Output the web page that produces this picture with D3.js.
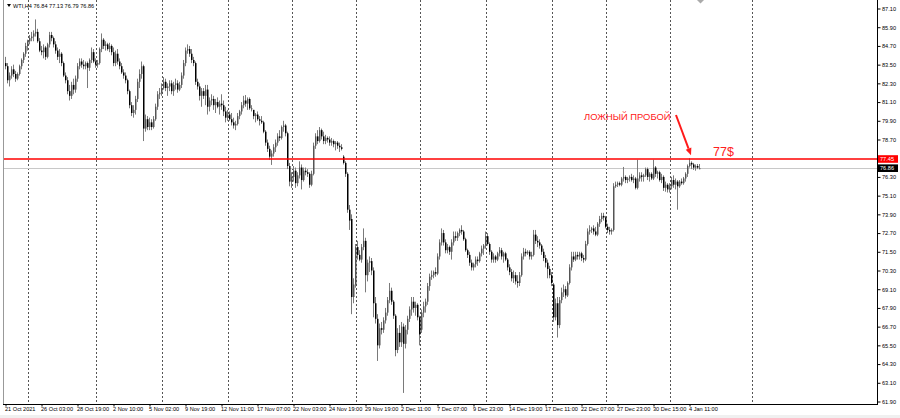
<!DOCTYPE html>
<html><head><meta charset="utf-8">
<script src="https://cdn.jsdelivr.net/npm/d3@7"></script>
<style>html,body{margin:0;padding:0;background:#fff;} svg{display:block;}</style>
</head><body>
<svg id="c" width="900" height="418"></svg>
<script>
// ---- data: H4 bars [open, high, low, close], one array per trading week ----
const week0 = [[83.6,84.0,83.2,83.4],[83.4,83.6,82.3,82.5],[82.5,83.0,82.1,82.8],[82.8,83.4,82.6,83.2],[83.2,83.5,82.7,82.9],[82.9,83.1,82.4,82.6],[82.6,83.0,82.5,82.9],[82.9,83.5,82.8,83.4],[83.4,83.9,83.2,83.8],[83.8,84.3,83.6,84.2],[84.2,84.9,84.0,84.7],[84.7,85.1,84.4,85.0]];
const week1 = [[85.0,85.4,84.8,85.2],[85.2,85.6,85.0,85.3],[85.3,85.7,85.0,85.5],[85.5,86.4,85.3,85.6],[85.6,85.8,84.9,85.0],[85.0,85.2,84.3,84.4],[84.4,84.7,84.1,84.3],[84.3,84.8,83.9,84.6],[84.6,84.7,83.8,84.0],[84.0,84.9,83.9,84.8],[84.8,85.6,84.6,85.4],[85.4,85.6,85.0,85.2],[85.2,85.3,84.6,84.8],[84.8,85.0,84.2,84.4],[84.4,84.6,83.8,84.0],[84.0,84.5,83.6,84.2],[84.2,84.3,83.4,83.6],[83.6,83.7,82.7,82.8],[82.8,83.0,82.3,82.5],[82.5,82.7,81.6,81.8],[81.8,82.2,81.2,81.5],[81.5,82.4,81.3,82.2],[82.2,82.6,81.6,81.9],[81.9,82.8,81.7,82.6],[82.6,83.6,82.4,83.4],[83.4,83.9,83.2,83.7],[83.7,83.9,83.3,83.5],[83.5,83.8,83.2,83.4],[83.4,83.7,83.2,83.6],[83.6,83.7,82.0,83.3],[83.3,83.9,83.1,83.8],[83.8,84.6,83.6,84.3],[84.3,84.5,83.6,83.7],[83.7,83.9,83.3,83.5]];
const week2 = [[83.5,83.8,83.3,83.6],[83.6,84.6,83.5,84.5],[84.5,85.5,84.3,85.1],[85.1,85.2,84.5,84.7],[84.7,85.0,84.4,84.8],[84.8,84.9,84.4,84.5],[84.5,84.9,84.3,84.7],[84.7,84.8,84.1,84.3],[84.3,84.6,83.4,83.6],[83.6,84.4,83.4,84.2],[84.2,84.5,83.5,83.7],[83.7,83.9,83.2,83.4],[83.4,83.6,82.9,83.0],[83.0,83.2,82.6,82.8],[82.8,83.0,82.3,82.5],[82.5,82.6,81.6,81.8],[81.8,81.9,80.7,80.9],[80.9,81.1,80.2,80.4],[80.4,80.9,80.1,80.6],[80.6,81.5,80.3,81.3],[81.3,82.6,81.1,82.4],[82.4,83.2,82.0,82.9],[82.9,83.7,82.6,83.4],[83.4,83.5,78.6,79.4],[79.4,80.3,79.2,80.0],[80.0,80.2,79.3,79.5],[79.5,80.1,79.3,79.8],[79.8,80.0,79.3,79.5],[79.5,80.2,79.4,80.0],[80.0,81.0,79.9,80.8],[80.8,81.8,80.6,81.6],[81.6,82.0,81.3,81.7],[81.7,82.3,81.5,82.0]];
const week3 = [[82.0,82.7,81.9,82.4],[82.4,82.6,81.8,82.0],[82.0,82.3,81.5,82.1],[82.1,82.5,81.8,82.3],[82.3,82.5,81.6,81.8],[81.8,82.4,81.5,82.2],[82.2,82.6,81.9,82.3],[82.3,82.5,81.7,81.9],[81.9,82.4,81.8,82.2],[82.2,83.0,82.0,82.8],[82.8,83.8,82.6,83.6],[83.6,84.6,83.4,84.4],[84.4,84.8,84.2,84.5],[84.5,84.7,84.0,84.2],[84.2,84.5,83.6,83.8],[83.8,84.0,83.4,83.6],[83.6,83.7,82.2,82.4],[82.4,82.6,81.9,82.1],[82.1,82.3,81.2,81.5],[81.5,82.0,80.8,81.8],[81.8,82.0,81.3,81.5],[81.5,82.2,80.9,81.9],[81.9,82.2,80.3,80.8],[80.8,81.4,80.5,81.2],[81.2,81.6,80.9,81.3],[81.3,81.5,80.6,80.9],[80.9,81.3,80.4,81.1],[81.1,81.4,80.7,80.8],[80.8,81.2,80.3,81.0],[81.0,81.6,80.6,80.9],[80.9,81.2,80.2,80.5],[80.5,80.8,79.8,80.1],[80.1,80.6,79.9,80.3]];
const week4 = [[80.3,80.5,79.9,80.0],[80.0,80.4,79.6,79.8],[79.8,80.1,79.4,79.6],[79.6,79.9,79.3,79.7],[79.7,80.4,79.6,80.2],[80.2,80.6,80.0,80.5],[80.5,81.1,80.3,80.9],[80.9,81.5,80.7,81.2],[81.2,81.55,80.8,81.0],[81.0,81.4,80.6,81.3],[81.3,81.4,80.6,80.7],[80.7,80.9,80.5,80.7],[80.6,80.6,80.0,80.2],[80.2,80.4,79.8,80.3],[80.3,80.5,79.9,80.0],[80.0,80.2,79.6,79.9],[79.9,80.2,79.7,79.8],[79.8,79.9,79.1,79.2],[79.2,79.3,78.3,78.5],[78.5,78.7,77.9,78.1],[78.1,78.3,77.4,77.6],[77.6,78.0,77.07,77.8],[77.8,78.4,77.6,78.2],[78.2,78.7,77.9,78.5],[78.5,79.1,78.3,78.9],[78.9,79.3,78.6,78.8],[78.8,79.6,78.7,79.5],[79.5,79.9,79.2,79.6],[79.6,79.7,78.9,79.1],[79.1,79.2,76.8,77.0],[77.0,77.2,75.7,76.0],[76.0,76.6,75.6,76.3]];
const week5 = [[76.3,77.0,76.0,76.7],[76.7,76.9,75.6,75.9],[75.9,76.6,75.7,76.4],[76.4,77.3,76.2,76.9],[76.9,77.1,75.5,76.1],[76.1,76.9,76.0,76.7],[76.7,76.9,76.4,76.6],[76.6,76.8,76.3,76.5],[76.5,76.6,75.6,75.8],[75.8,76.7,75.7,76.5],[76.5,78.5,76.4,78.3],[78.3,79.1,78.1,78.9],[78.9,79.3,78.4,78.6],[78.6,79.5,78.5,79.3],[79.3,79.4,78.7,78.9],[78.9,79.2,78.4,78.6],[78.6,79.0,78.4,78.8],[78.8,78.9,78.5,78.7],[78.7,78.9,78.3,78.5],[78.5,78.8,78.3,78.6],[78.6,78.7,78.2,78.4],[78.4,78.6,78.0,78.5],[78.5,78.6,78.1,78.3],[78.3,78.5,77.9,78.2],[78.2,78.4,78.0,78.1],[77.6,77.7,77.1,77.2],[77.2,77.3,76.3,76.5],[76.5,76.6,74.0,74.2],[74.2,74.5,72.9,73.5],[73.6,73.9,67.5,68.6],[68.6,69.8,68.2,69.4],[69.4,72.0,69.2,71.8]];
const week6 = [[71.8,72.2,71.0,71.3],[71.3,71.6,70.9,71.0],[71.0,72.0,70.8,71.8],[71.8,73.0,71.6,72.2],[72.2,72.4,68.9,70.0],[70.0,71.0,69.6,70.8],[70.8,71.2,70.2,70.9],[70.9,71.1,70.0,70.3],[70.3,70.5,67.3,68.2],[68.2,68.6,66.9,67.2],[67.2,67.5,64.5,65.5],[65.5,66.9,65.3,66.6],[66.6,67.0,66.2,66.5],[66.5,67.3,66.3,67.1],[67.1,67.9,66.9,67.6],[67.6,68.6,67.4,68.4],[68.4,69.5,68.2,69.0],[69.0,69.2,68.1,68.3],[68.3,68.4,67.2,67.4],[67.4,67.5,64.8,65.2],[65.2,66.6,65.0,66.3],[66.3,66.8,65.4,65.7],[65.7,67.0,65.4,66.7],[66.7,66.9,62.45,65.6],[65.6,66.8,65.3,66.5],[66.5,67.4,66.2,67.2],[67.2,68.0,67.0,67.8],[67.8,68.6,67.4,68.3],[68.3,68.6,67.6,67.9],[67.9,68.3,67.4,68.1],[68.1,68.2,67.1,67.3],[67.3,67.4,65.5,66.2]];
const week7 = [[66.5,67.8,66.3,67.6],[67.6,68.3,67.3,68.0],[68.0,68.5,67.6,68.3],[68.3,69.5,68.1,69.3],[69.3,70.1,69.0,69.9],[69.9,70.3,69.7,70.0],[70.0,70.3,69.8,70.2],[70.2,70.5,69.9,70.1],[70.1,71.4,70.0,71.2],[71.2,72.3,71.0,72.1],[72.1,73.0,71.9,72.7],[72.7,72.9,71.9,72.1],[72.1,72.3,71.4,71.6],[71.6,72.0,71.4,71.8],[71.8,71.9,71.3,71.5],[71.5,72.3,71.0,72.1],[72.1,72.8,71.9,72.5],[72.5,72.8,72.2,72.4],[72.4,72.8,72.2,72.7],[72.7,73.0,72.5,72.9],[72.9,73.2,72.6,72.8],[72.8,72.9,72.2,72.3],[72.3,72.4,71.5,71.6],[71.6,71.7,71.1,71.3],[71.3,71.5,70.6,70.8],[70.8,71.0,70.3,70.5],[70.5,70.8,70.3,70.7],[70.7,71.2,70.5,71.0],[71.0,71.2,70.6,70.9],[70.9,71.5,70.8,71.4],[71.4,71.9,71.2,71.7],[71.7,72.0,71.3,71.9],[71.9,72.8,71.7,72.5]];
const week8 = [[72.5,72.7,71.9,72.0],[72.0,72.1,71.3,71.5],[71.5,71.6,70.8,71.0],[71.0,71.4,70.8,71.2],[71.2,71.3,70.8,71.0],[71.0,71.5,70.9,71.4],[71.4,71.8,71.2,71.6],[71.6,71.75,71.0,71.2],[71.2,71.5,70.8,71.4],[71.4,71.5,70.9,71.0],[71.0,71.1,70.3,70.5],[70.5,70.7,70.0,70.2],[70.2,70.4,69.6,69.8],[69.8,70.3,69.5,70.0],[70.0,70.2,69.4,69.6],[69.6,70.0,69.2,69.5],[69.5,70.2,69.3,70.0],[70.0,71.4,69.9,71.2],[71.2,71.75,71.0,71.5],[71.5,71.7,71.2,71.4],[71.4,71.6,71.3,71.5],[71.5,71.6,71.0,71.2],[71.2,71.5,71.0,71.3],[71.3,72.9,71.2,72.6],[72.6,72.9,72.0,72.2],[72.2,72.5,71.8,72.1],[72.1,72.3,71.7,71.9],[71.9,72.0,71.3,71.5],[71.5,71.7,70.9,71.1],[71.1,71.3,70.5,70.8],[70.8,71.0,69.8,70.4],[70.4,70.6,69.8,70.0],[70.0,70.2,69.3,69.5]];
const week9 = [[69.4,69.5,67.0,67.3],[67.3,68.5,67.1,68.2],[68.2,68.6,66.0,66.8],[66.8,68.6,66.6,68.4],[68.4,69.2,68.2,68.9],[68.9,69.4,68.6,69.1],[69.1,69.3,68.5,68.7],[68.7,69.6,68.6,69.5],[69.5,70.7,69.4,70.5],[70.5,71.5,70.3,71.2],[71.2,71.5,70.85,71.0],[71.0,71.5,70.9,71.3],[71.3,71.5,71.0,71.2],[71.2,71.5,71.0,71.4],[71.4,71.5,70.9,71.1],[71.1,71.3,70.8,71.0],[71.0,72.2,70.9,72.0],[72.0,73.0,71.9,72.8],[72.8,73.2,72.6,72.9],[72.9,73.1,72.7,73.0],[73.0,73.2,72.6,72.8],[72.8,73.1,72.5,72.6],[72.6,73.4,72.5,73.3],[73.3,73.8,73.1,73.6],[73.6,74.0,73.4,73.8],[73.8,74.0,73.5,73.7],[73.7,73.8,73.0,73.1]];
const week10 = [[73.1,73.3,72.7,72.9],[72.9,73.1,72.6,72.8],[72.8,73.0,72.6,72.9],[72.9,75.9,72.8,75.7],[75.7,76.0,75.6,75.8],[75.8,76.0,75.65,75.9],[75.9,76.0,75.7,75.8],[75.8,76.3,75.7,76.2],[76.2,76.94,76.0,76.3],[76.3,76.4,75.9,76.1],[76.1,76.3,75.9,76.2],[76.2,76.4,76.0,76.3],[76.3,76.5,76.0,76.1],[76.1,76.4,75.9,76.2],[76.2,76.3,75.5,75.6],[75.6,77.4,75.5,76.2],[76.2,76.6,76.0,76.4],[76.4,76.6,76.0,76.3],[76.3,76.5,76.0,76.4],[76.4,76.9,76.3,76.8],[76.8,76.9,76.1,76.3],[76.3,76.6,76.0,76.5],[76.5,76.6,76.1,76.2],[76.2,77.4,76.1,76.9],[76.9,77.0,76.3,76.5],[76.5,76.7,76.2,76.6],[76.6,76.7,76.0,76.1],[76.1,76.5,75.9,76.3],[76.3,76.4,75.4,75.6],[75.6,76.0,75.35,75.8],[75.8,75.9,75.3,75.5],[75.5,75.9,75.3,75.7]];
const week11 = [[75.7,76.3,75.5,76.1],[76.1,76.4,75.6,75.8],[75.8,76.2,75.5,76.0],[76.0,76.1,74.2,75.7],[75.7,76.1,75.6,76.0],[76.0,76.2,75.8,75.9],[75.9,76.3,75.8,76.2],[76.2,76.6,76.0,76.5],[76.5,77.1,76.3,77.0],[77.0,77.5,76.9,77.2],[77.2,77.3,76.8,77.1],[77.1,77.2,76.75,76.9],[76.9,77.1,76.7,77.0],[77.0,77.13,76.8,76.9],[76.84,77.13,76.79,76.86]];

const xLabels = ["21 Oct 2021","26 Oct 03:00","28 Oct 19:00","2 Nov 10:00","5 Nov 02:00","9 Nov 19:00","12 Nov 11:00","17 Nov 07:00","22 Nov 03:00","24 Nov 19:00","29 Nov 19:00","2 Dec 11:00","7 Dec 07:00","9 Dec 23:00","14 Dec 19:00","17 Dec 11:00","22 Dec 07:00","27 Dec 23:00","30 Dec 15:00","4 Jan 11:00"];
const xLabelEvery = 18;
const yTicks = [87.10,85.90,84.70,83.50,82.30,81.10,79.90,78.70,76.30,75.10,73.90,72.70,71.50,70.30,69.10,67.90,66.70,65.50,64.30,63.10,61.90];
const separators = [12,46,79,112,144,176,208,241,274,301,333,374];
const levelPrice = 77.45;
const bidPrice = 76.86;
const symbolTitle = "WTI,H4";
const annotationText = "ЛОЖНЫЙ ПРОБОЙ";
const levelText = "77$";

// ---- build ----
const weeks = [week0,week1,week2,week3,week4,week5,week6,week7,week8,week9,week10,week11];
const bars = [].concat(...weeks).map((d,i)=>({i,o:d[0],h:d[1],l:d[2],c:d[3]}));
const last = bars[bars.length-1];

const svg = d3.select("#c");
const F = "'Liberation Sans', Arial, sans-serif";
const L = 3, R = 877, B = 404;

const x = d3.scaleLinear().domain([0, bars.length-1]).range([5, 5 + 2*(bars.length-1)]);
const y = d3.scaleLinear().domain([61.90, 87.10]).range([401.5, 8.5]);
const px = i => Math.round(x(i));

svg.append("rect").attr("width",900).attr("height",418).attr("fill","#fff");
svg.append("rect").attr("x",0).attr("y",415).attr("width",900).attr("height",3).attr("fill","#f0f0f0");

// separators
svg.append("g").selectAll("line").data(separators).join("line")
  .attr("x1",d=>px(d)-0.5).attr("x2",d=>px(d)-0.5).attr("y1",0).attr("y2",B)
  .attr("stroke","#555").attr("stroke-width",1).attr("stroke-dasharray","2,2");

// bid line
svg.append("line").attr("x1",L).attr("x2",R).attr("y1",Math.round(y(bidPrice))+0.5).attr("y2",Math.round(y(bidPrice))+0.5)
  .attr("stroke","#c8c8c8").attr("stroke-width",1);

// candles
const g = svg.append("g");
g.selectAll("line.w").data(bars).join("line").attr("class","w")
  .attr("x1",d=>px(d.i)+0.5).attr("x2",d=>px(d.i)+0.5)
  .attr("y1",d=>y(d.h)).attr("y2",d=>y(d.l))
  .attr("stroke","#7a7a7a").attr("stroke-width",1);
g.selectAll("rect.b").data(bars).join("rect").attr("class","b")
  .attr("x",d=>px(d.i)).attr("width",1.5)
  .attr("y",d=>y(Math.max(d.o,d.c)))
  .attr("height",d=>Math.max(1,Math.abs(y(d.o)-y(d.c))))
  .attr("fill",d=>d.c<d.o?"#000":"#555");

// level line (red)
svg.append("line").attr("x1",L).attr("x2",R).attr("y1",y(levelPrice)).attr("y2",y(levelPrice))
  .attr("stroke","#ff0000").attr("stroke-width",1.3);

// frame
svg.append("line").attr("x1",L+0.5).attr("x2",L+0.5).attr("y1",0).attr("y2",B).attr("stroke","#999");
svg.append("line").attr("x1",R+0.5).attr("x2",R+0.5).attr("y1",0).attr("y2",B+0.5).attr("stroke","#000");
svg.append("line").attr("x1",L).attr("x2",R+1).attr("y1",B+0.5).attr("y2",B+0.5).attr("stroke","#000");

// right axis
const ya = d3.axisRight(y).tickValues(yTicks).tickSize(3).tickPadding(1.5).tickFormat(d3.format(".2f"));
const yg = svg.append("g").attr("transform",`translate(${R+0.5},0)`).call(ya);
yg.select(".domain").remove();
yg.selectAll("line").attr("stroke","#000");
yg.selectAll("text").attr("font-family",F).attr("font-size",5.6).attr("fill","#000");

// bottom axis
const xIdx = xLabels.map((_,k)=>k*xLabelEvery);
const xa = d3.axisBottom(x).tickValues(xIdx).tickSize(2).tickFormat((d,k)=>xLabels[k]);
const xg = svg.append("g").attr("transform",`translate(0.5,${B+0.5})`).call(xa);
xg.select(".domain").remove();
xg.selectAll("line").attr("stroke","#000");
xg.selectAll("text").attr("font-family",F).attr("font-size",5.6).attr("fill","#000")
  .attr("text-anchor","start").attr("dx",-1).attr("y",3);

// price labels
function priceTag(p, bg){
  const yy = y(p);
  svg.append("rect").attr("x",R+1).attr("y",yy-3.8).attr("width",20).attr("height",7.6).attr("fill",bg);
  svg.append("text").attr("x",R+3).attr("y",yy+2).attr("font-family",F).attr("font-size",5.6)
    .attr("fill","#fff").text(p.toFixed(2));
}
priceTag(levelPrice,"#ff0000");
priceTag(bidPrice,"#000");

// header
svg.append("path").attr("d","M7,4 L11,4 L9,7 Z").attr("fill","#000");
svg.append("text").attr("x",13).attr("y",7.8).attr("font-family",F).attr("font-size",5.6).attr("fill","#000")
  .text(`${symbolTitle}  ${last.o.toFixed(2)} ${last.h.toFixed(2)} ${last.l.toFixed(2)} ${last.c.toFixed(2)}`);

// chart shift marker
const sx = px(bars.length-1)+1.5;
svg.append("path").attr("d",`M${sx-3.5},0 L${sx+3.5},0 L${sx},3.5 Z`).attr("fill","#aaa");

// annotation
svg.append("text").attr("x",584).attr("y",119.5).attr("font-family",F).attr("font-size",9.4)
  .attr("fill","#ff2020").text(annotationText);
const ax0 = 676, ay0 = 115, ax1 = x(342)+2, ay1 = y(77.5)-3;
const ang = Math.atan2(ay1-ay0, ax1-ax0);
const hl = 7, hw = 3;
const bx = ax1 - hl*Math.cos(ang), by = ay1 - hl*Math.sin(ang);
svg.append("line").attr("x1",ax0).attr("y1",ay0).attr("x2",bx).attr("y2",by)
  .attr("stroke","#ff1a1a").attr("stroke-width",2);
svg.append("path").attr("d",`M${ax1},${ay1} L${bx+hw*Math.sin(ang)},${by-hw*Math.cos(ang)} L${bx-hw*Math.sin(ang)},${by+hw*Math.cos(ang)} Z`)
  .attr("fill","#ff1a1a");
svg.append("text").attr("x",713).attr("y",156).attr("font-family",F).attr("font-size",12.5)
  .attr("fill","#ff2020").text(levelText);
</script>
</body></html>
